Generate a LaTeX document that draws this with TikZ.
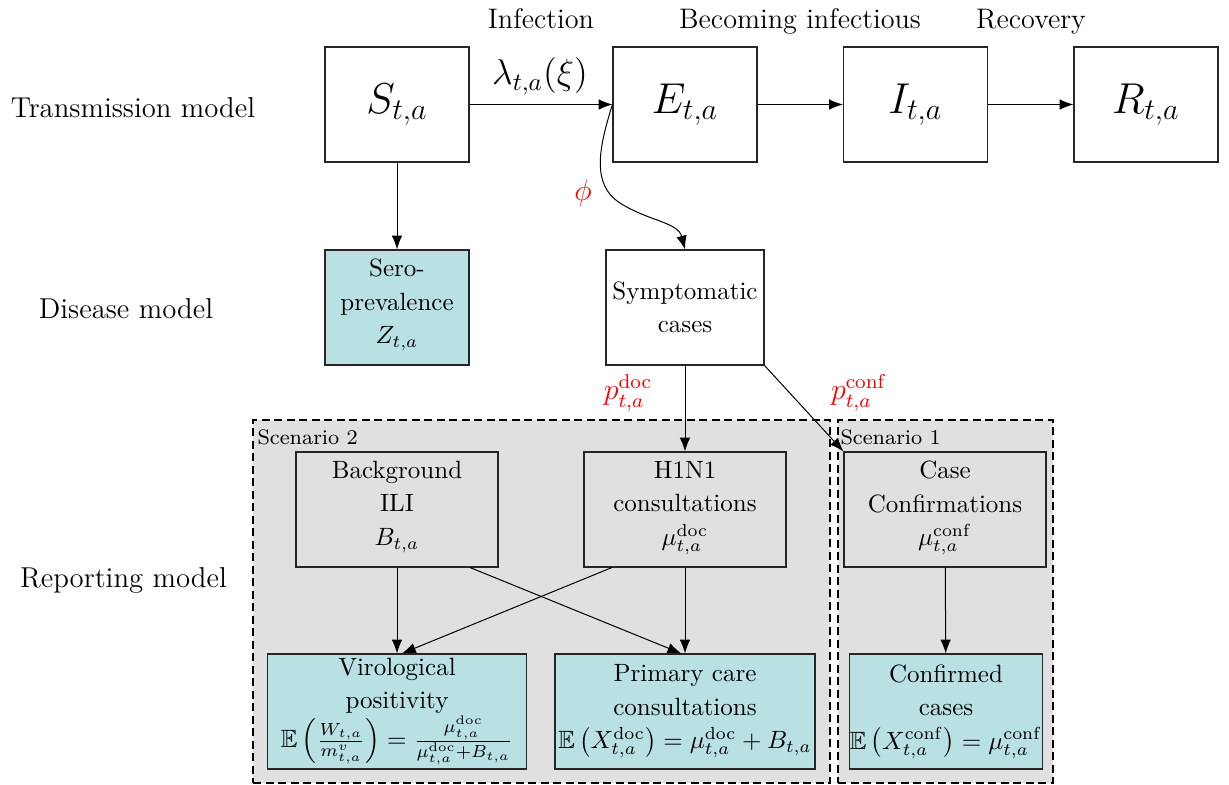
\documentclass[tikz,border=0pt]{standalone}
\usepackage{amssymb}
\usetikzlibrary{arrows.meta,calc}
\definecolor{obsfill}{RGB}{185,224,227}
\definecolor{scenfill}{RGB}{224,224,224}
\newcommand{\lowstrut}{\rule[-5pt]{0pt}{0pt}}
\begin{document}
\begin{tikzpicture}[x=0.4pt,y=-0.4pt,
  box/.style={draw=black!85, line width=0.45pt, inner sep=0pt, align=center,
    font=\fontsize{10}{13.4}\selectfont},
  sz/.style 2 args={minimum width=#1*0.4pt, minimum height=#2*0.4pt},
  obs/.style={box, fill=obsfill},
  big/.style={font=\fontsize{18}{21}\selectfont},
  lbl/.style={inner sep=0pt, font=\fontsize{11.3}{13.6}\selectfont},
  side/.style={inner sep=0pt, font=\fontsize{11.5}{13.8}\selectfont},
  rlbl/.style={inner sep=0pt, text=red, font=\fontsize{12}{14}\selectfont},
  arr/.style={-{Latex[length=5.5pt,width=4.2pt]}, line width=0.4pt},
  scen/.style={draw, dash pattern=on 3.2pt off 1.8pt, line width=0.6pt, fill=scenfill, inner sep=0pt},
  scenlbl/.style={inner sep=0pt, anchor=base west, font=\fontsize{8.4}{10}\selectfont}]
\useasboundingbox (0,0) rectangle (1229,785);

% scenario regions
\node[scen, sz={577}{363}] (sc2) at (541.5,601.5) {};
\node[scen, sz={215}{363}] (sc1) at (945.5,601.5) {};
\node[scenlbl] (sc2l) at (257,445) {Scenario 2};
\node[scenlbl] (sc1l) at (840,445) {Scenario 1};

% side labels
\node[side] (tm) at (133,108) {Transmission model};
\node[side] (dm) at (126,309) {Disease model};
\node[side] (rm) at (123.5,580) {Reporting model};

% top labels
\node[lbl, anchor=base] (inf) at (541,29) {Infection};
\node[lbl, anchor=base] (bec) at (800,29) {Becoming infectious};
\node[lbl, anchor=base] (rec) at (1031,29) {Recovery};

% transmission boxes
\node[box, big, sz={144}{115}] (S) at (397,104.5) {$S_{t,a}$};
\node[box, big, sz={144}{115}] (E) at (685,104.5) {$E_{t,a}$};
\node[box, big, sz={144}{115}] (I) at (915.5,104.5) {$I_{t,a}$};
\node[box, big, sz={144}{115}] (R) at (1146,104.5) {$R_{t,a}$};

\node[inner sep=0pt, anchor=base, font=\fontsize{14.3}{17}\selectfont] (lam) at (540,85) {$\lambda_{t,a}(\xi)$};

% disease model
\node[obs, sz={144}{115}] (sero) at (397,307.5) {Sero-\\prevalence\\$Z_{t,a}$\lowstrut};
\node[box, sz={158}{115}] (sym) at (685,307.5) {Symptomatic\\cases};

% reporting
\node[box, sz={202}{115}] (bg) at (397,509.5) {Background\\ILI\\$B_{t,a}$\lowstrut};
\node[box, sz={202}{115}] (h1) at (685,509.5) {H1N1\\consultations\\$\mu^{\mathrm{doc}}_{t,a}$\lowstrut};
\node[box, sz={202}{115}] (cc) at (945,509.5) {Case\\Confirmations\\$\mu^{\mathrm{conf}}_{t,a}$\lowstrut};
\node[obs, sz={259}{115}] (vir) at (397,711.5) {Virological\\positivity\\$\mathbb{E}\left(\frac{W_{t,a}}{m^{v}_{t,a}}\right)=\frac{\mu^{\mathrm{doc}}_{t,a}}{\mu^{\mathrm{doc}}_{t,a}+B_{t,a}}$};
\node[obs, sz={260}{115}] (prim) at (685,711.5) {Primary care\\consultations\\$\mathbb{E}\,\bigl(X^{\mathrm{doc}}_{t,a}\bigr)=\mu^{\mathrm{doc}}_{t,a}+B_{t,a}$};
\node[obs, sz={188}{115}] (cfd) at (946,711.5) {Confirmed\\cases\\$\mathbb{E}\,\bigl(X^{\mathrm{conf}}_{t,a}\bigr)=\mu^{\mathrm{conf}}_{t,a}$};

% red labels
\node[rlbl] (phi) at (583,193) {$\phi$};
\node[rlbl] (pdoc) at (628,393) {$p^{\mathrm{doc}}_{t,a}$};
\node[rlbl] (pconf) at (859,393) {$p^{\mathrm{conf}}_{t,a}$};

% connectors
\draw[arr] (S) -- (E);
\draw[arr] (E) -- (I);
\draw[arr] (I) -- (R);
\draw[arr] (S) -- (sero);
\draw[arr] (E.west) .. controls (598,150) and (592,185) .. (620,203)
  .. controls (648,221) and (678,222) .. (sym.north);
\draw[arr] (sym) -- (h1);
\draw[arr] (sym.south east) -- (cc.north west);
\draw[arr] (bg) -- (vir);
\draw[arr] ($(bg.south west)!0.86!(bg.south east)$) -- ([xshift=-1.5pt]prim.north);
\draw[arr] ($(h1.south west)!0.14!(h1.south east)$) -- ([xshift=2pt]vir.north);
\draw[arr] (h1) -- (prim);
\draw[arr] (cc) -- (cfd);
\end{tikzpicture}
\end{document}
